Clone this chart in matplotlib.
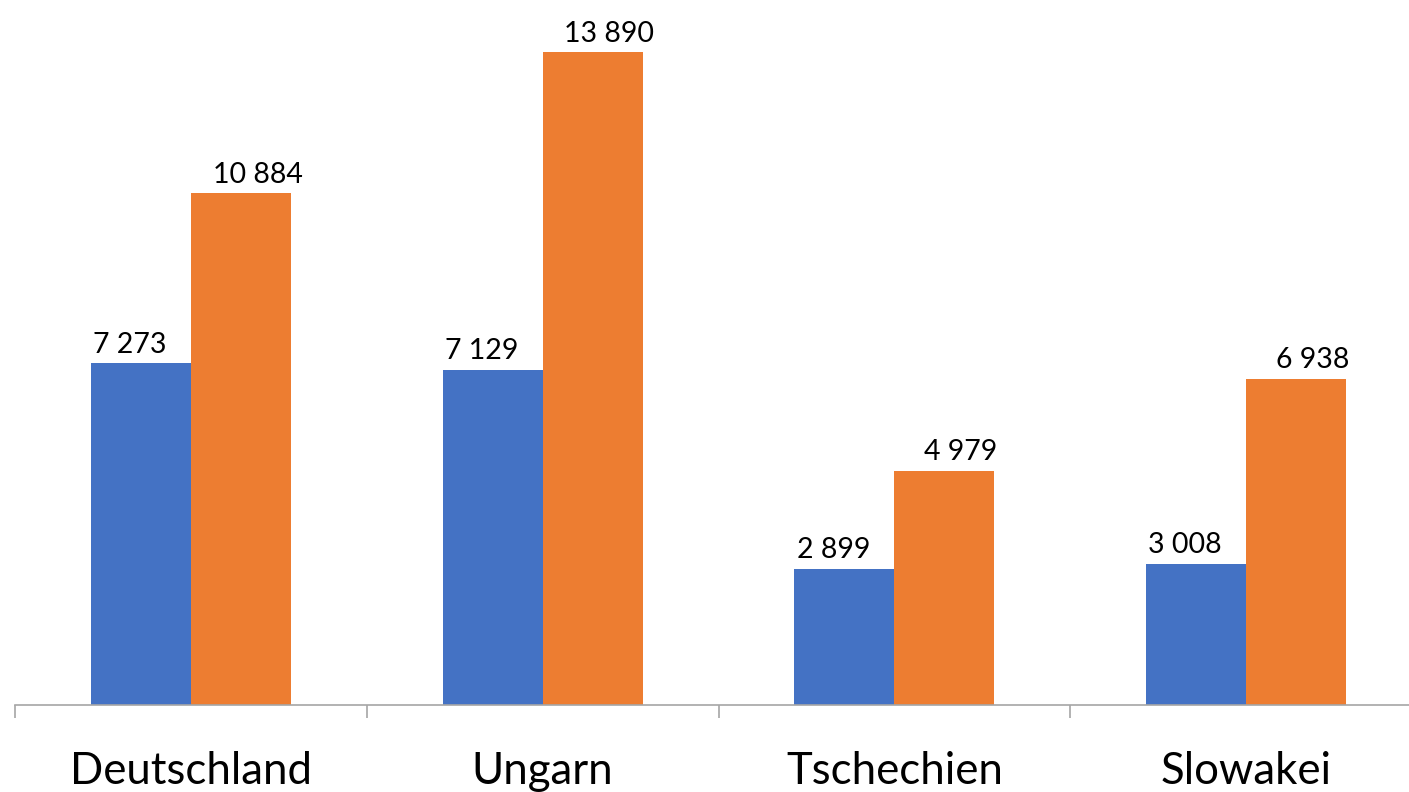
import matplotlib
matplotlib.use("Agg")
import matplotlib.pyplot as plt
import numpy as np

categories = ["Deutschland", "Ungarn", "Tschechien", "Slowakei"]
series_a = [7273, 7129, 2899, 3008]
series_b = [10884, 13890, 4979, 6938]

def fmt(v):
    return f"{v:,}".replace(",", " ")

W, H = 1409, 792
fig = plt.figure(figsize=(W / 100, H / 100), dpi=100)
ax = fig.add_axes([15 / W, (H - 705) / H, 1407 / W, 705 / H])

x = np.arange(len(categories))
bw = 100 / 352
ax.bar(x - bw / 2, series_a, width=bw, color="#4472C4")
ax.bar(x + bw / 2, series_b, width=bw, color="#ED7D31")

font = "Lato"
for xi, v in zip(x, series_a):
    ax.annotate(fmt(v), (xi - bw / 2, v), xytext=(-8, 4), textcoords="offset points",
                ha="center", va="bottom", fontsize=20.5, family=font)
for xi, v in zip(x, series_b):
    ax.annotate(fmt(v), (xi + bw / 2, v), xytext=(12, 4), textcoords="offset points",
                ha="center", va="bottom", fontsize=20.5, family=font)

ax.set_xlim(-0.5, len(categories) - 0.5)
ax.set_ylim(0, 15000)
for s in ["top", "right", "left"]:
    ax.spines[s].set_visible(False)
ax.spines["bottom"].set_color("#A6A6A6")
ax.spines["bottom"].set_linewidth(1.2)
ax.set_yticks([])
ax.set_xticks(x)
ax.set_xticklabels(categories, fontsize=31.5, family=font)
ax.tick_params(axis="x", which="major", length=0, pad=33)
ax.set_xticks(np.arange(-0.5, len(categories), 1.0), minor=True)
ax.tick_params(axis="x", which="minor", length=9, color="#A6A6A6", width=1.2)

fig.savefig("out.png", dpi=100)
